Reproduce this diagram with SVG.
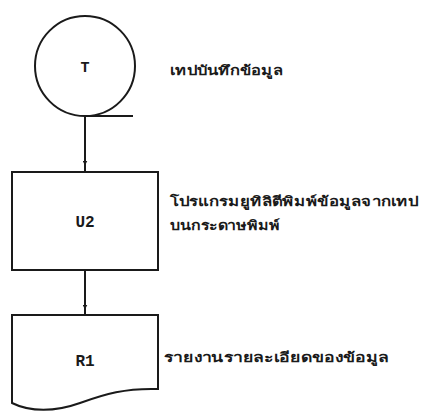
<svg xmlns="http://www.w3.org/2000/svg" width="421" height="411" viewBox="0 0 421 411">
<style>
.shape{fill:none;stroke:#1a1a1a;stroke-width:2}
.lbl{font-family:"Liberation Mono",monospace;font-weight:bold;fill:#1a1a1a;text-anchor:middle}
.th{font-family:"Noto Sans","DejaVu Sans",sans-serif;font-size:13px;font-weight:bold;fill:#1a1a1a}
.conn{stroke:#1a1a1a;stroke-width:2;fill:none}
</style>
<defs>
<marker id="arr" viewBox="0 0 6 6" refX="3" refY="3" markerWidth="2.5" markerHeight="2.5" orient="auto">
<path d="M0,0 L6,3 L0,6 z" fill="#1a1a1a"/>
</marker>
</defs>
<rect width="421" height="411" fill="#fff"/>
<g id="connectors">
<path class="conn" d="M85,116 V163" marker-end="url(#arr)"/>
<path class="conn" d="M85,163 V172"/>
<path class="conn" d="M85,270 V307" marker-end="url(#arr)"/>
<path class="conn" d="M85,307 V315"/>
</g>
<g id="T">
<circle class="shape" cx="85" cy="66" r="50"/>
<path class="shape" d="M85,116 H133"/>
<text class="lbl" x="85" y="72" font-family="Liberation Serif, serif" font-size="15">T</text>
<text class="th" x="170" y="75" textLength="113" lengthAdjust="spacingAndGlyphs">เทปบันทึกข้อมูล</text>
</g>
<g id="U2">
<rect class="shape" x="12" y="172" width="146" height="98"/>
<text class="lbl" x="85" y="227" font-size="16">U2</text>
<text class="th" x="170" y="206" textLength="248" lengthAdjust="spacingAndGlyphs">โปรแกรมยูทิลิตีพิมพ์ข้อมูลจากเทป</text>
<text class="th" x="170" y="230" textLength="110" lengthAdjust="spacingAndGlyphs">บนกระดาษพิมพ์</text>
</g>
<g id="R1">
<path class="shape" d="M158,315 H12 V403 C30,412 55,412 80,403 C105,394 125,388 158,389 Z"/>
<text class="lbl" x="85" y="366" font-size="16">R1</text>
<text class="th" x="164" y="362" textLength="225" lengthAdjust="spacingAndGlyphs">รายงานรายละเอียดของข้อมูล</text>
</g>
</svg>
